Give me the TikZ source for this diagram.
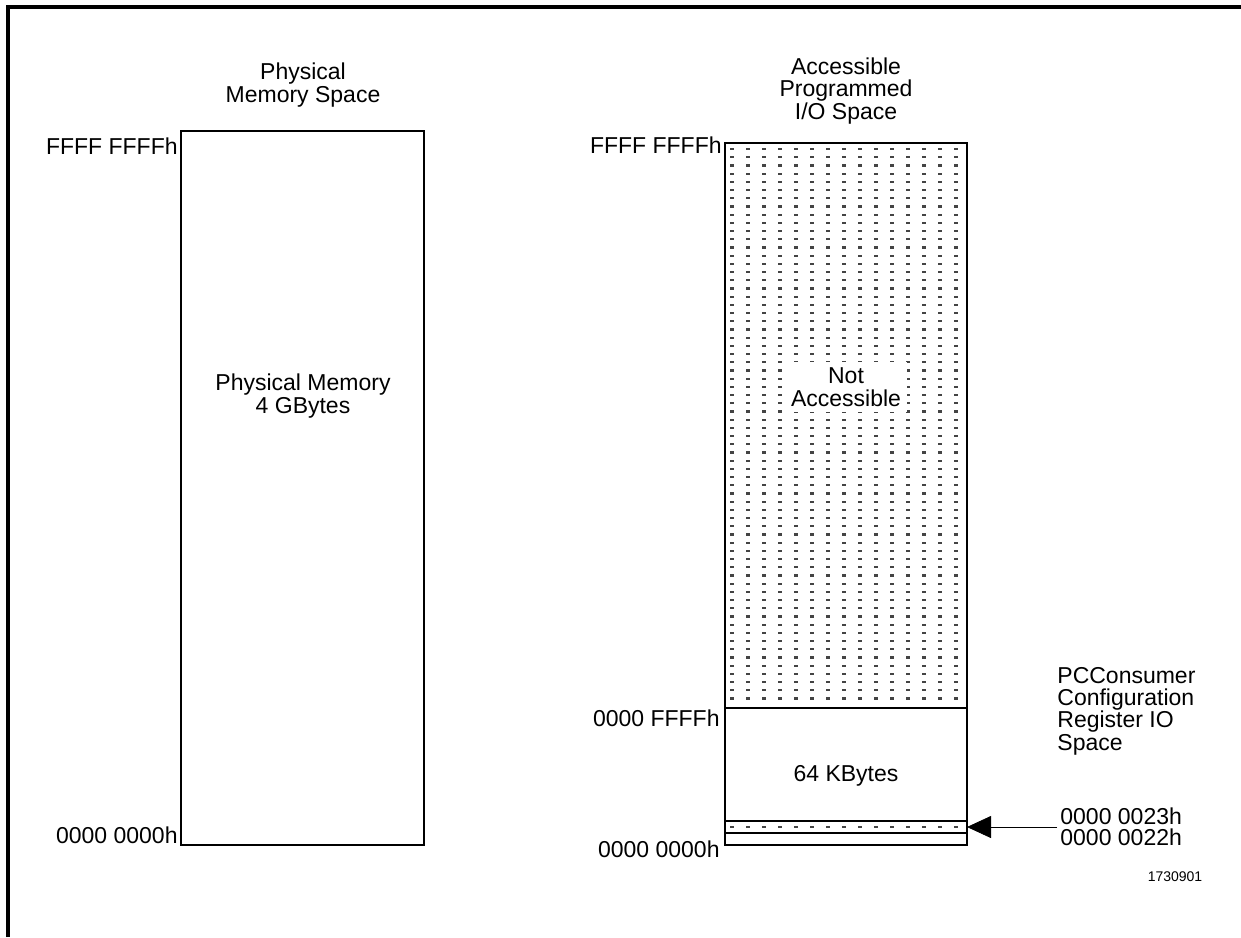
\documentclass[tikz,border=0pt]{standalone}
\usepackage{fontspec}
\setmainfont{Liberation Sans}
\usetikzlibrary{arrows.meta}
\definecolor{dotgray}{HTML}{444444}

\begin{document}
\begin{tikzpicture}[x=0.5pt,y=-0.5pt,>={Triangle[length=12pt,width=11pt]},font=\fontsize{11.5}{11.2}\selectfont]
  \tikzset{
    addr/.style={anchor=east,inner sep=1pt},
    title/.style={align=center,inner sep=0pt},
    region/.style={draw=black,line width=0.6pt},
  }
  \useasboundingbox (0,0) rectangle (1241,937);
  \draw[line width=1.6pt] (8,937) -- (8,7) -- (1241,7);
  % dotted fill of the I/O space
  \foreach \x in {732,748,...,956} {
    \foreach \j in {0,...,67} {
      \fill[dotgray] (\x-1.6,{149+8.2*\j-1.1}) rectangle (\x+1.6,{149+8.2*\j+1.1});
    }
    \fill[dotgray] (\x-1.6,825.9) rectangle (\x+1.6,828.1);
  }
  \draw[region] (181,131) rectangle (424,845);
  \draw[region] (725,143) rectangle (967,845);
  \draw[region] (725,708) -- (967,708);
  \draw[region] (725,821) -- (967,821);
  \draw[region] (725,833) -- (967,833);
  \node[title] (phystitle) at (303,85) {Physical\\Memory Space};
  \node[title] (iotitle) at (846,91) {Accessible\\Programmed\\I/O Space};
  \node[title] (physmem) at (303,396) {Physical Memory\\4 GBytes};
  \node[title,fill=white,inner sep=3pt] (notacc) at (846,387) {Not\\Accessible};
  \node (kbytes) at (846,776) {64 KBytes};
  \node[addr] (physhi) at (180,146) {FFFF FFFFh};
  \node[addr] (physlo) at (180,835) {0000 0000h};
  \node[addr] (iohi) at (724,145) {FFFF FFFFh};
  \node[addr] (iomid) at (722,718) {0000 FFFFh};
  \node[addr] (iolo) at (722,849) {0000 0000h};
  \node[align=left,anchor=west,inner sep=0pt] (cfgspace) at (1057,711) {PCConsumer\\Configuration\\Register IO\\Space};
  \node[anchor=west,inner sep=0pt] (hi23) at (1060,816) {0000 0023h};
  \node[anchor=west,inner sep=0pt] (lo22) at (1060,837) {0000 0022h};
  \node[font=\fontsize{7}{8}\selectfont] (fignum) at (1175,877) {1730901};
  \coordinate (cfgtail) at (1057,827);
  \coordinate (stripe) at (967,827);
  \draw[->] (cfgtail) -- (stripe);
\end{tikzpicture}
\end{document}
